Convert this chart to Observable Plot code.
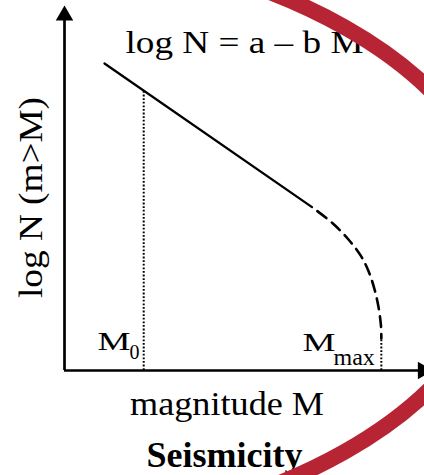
<!DOCTYPE html>
<html><head><meta charset="utf-8">
<script src="https://cdn.jsdelivr.net/npm/d3@7"></script>
<script src="https://cdn.jsdelivr.net/npm/@observablehq/plot@0.6"></script>
<style>html,body{margin:0;padding:0;background:#fff;} svg{display:block}</style>
</head><body><div id="chart"></div>
<script>
// Gutenberg–Richter schematic (arbitrary units)
const grMagnitude = [1.01, 6.25];
const grLogN = [7.78, 4.14];
const taperMagnitude = [6.25, 6.77, 7.17, 7.48, 7.68, 7.83, 7.93, 7.99, 8.0];
const taperLogN = [4.14, 3.73, 3.32, 2.91, 2.51, 2.05, 1.60, 1.14, 0.81];
const M0 = 2.0, M0LogN = 7.09;
const Mmax = 8.0, MmaxLogN = 0.81;
const axisEnd = {magnitude: 9.1, logN: 9.25};
const ringCenter = [{magnitude: -2.4, logN: 3.32}];

const formulaText = "log N = a – b M";
const xLabel = "magnitude M";
const yLabel = "log N (m>M)";
const titleText = "Seismicity";

const grLine = grMagnitude.map((m, i) => ({m, n: grLogN[i]}));
const taper = taperMagnitude.map((m, i) => ({m, n: taperLogN[i]}));

const serif = "'Liberation Serif', 'Times New Roman', serif";

// decorative ellipse outline (semi-axes in pixels)
const ringSymbol = {
  draw(ctx) {
    const a = 531, b = 300, k = 0.5523;
    ctx.moveTo(a, 0);
    ctx.bezierCurveTo(a, k * b, k * a, b, 0, b);
    ctx.bezierCurveTo(-k * a, b, -a, k * b, -a, 0);
    ctx.bezierCurveTo(-a, -k * b, -k * a, -b, 0, -b);
    ctx.bezierCurveTo(k * a, -b, a, -k * b, a, 0);
    ctx.closePath();
  }
};

const plot = Plot.plot({
  width: 424, height: 475,
  marginTop: 0, marginRight: 0, marginBottom: 0, marginLeft: 0,
  x: {domain: [0, axisEnd.magnitude], range: [64, 424.4], axis: null},
  y: {domain: [0, axisEnd.logN], range: [370, 5], axis: null},
  style: {fontFamily: serif, background: "#fff", overflow: "hidden"},
  marks: [
    // axes
    Plot.ruleY([0], {x1: 0, x2: axisEnd.magnitude, stroke: "#000", strokeWidth: 2.7}),
    Plot.ruleX([0], {y1: 0, y2: 9.0, stroke: "#000", strokeWidth: 2.7}),
    Plot.dot([0], {x: 0, y: axisEnd.logN, symbol: "triangle", r: 6.5, fill: "#000", stroke: "none", dy: 10}),
    Plot.dot([0], {x: axisEnd.magnitude, y: 0, symbol: "triangle", r: 6.5, fill: "#000", stroke: "none", rotate: 90, dx: -2}),
    // reference lines
    Plot.ruleX([M0], {y1: 0, y2: M0LogN, stroke: "#000", strokeWidth: 2, strokeDasharray: "1.8,1.8"}),
    Plot.ruleX([Mmax], {y1: 0, y2: MmaxLogN, stroke: "#000", strokeWidth: 2, strokeDasharray: "1.8,1.8"}),
    // G-R line and taper
    Plot.line(grLine, {x: "m", y: "n", stroke: "#000", strokeWidth: 2.3}),
    Plot.line(taper, {x: "m", y: "n", curve: "catmull-rom", stroke: "#000", strokeWidth: 2.6, strokeDasharray: "11,7", strokeDashoffset: 11}),
    // labels
    Plot.text([formulaText], {x: 1.54, y: 8.035, text: d => d, textAnchor: "start", lineAnchor: "bottom", fontSize: 32, fill: "#000"}),
    Plot.text(["M"], {x: 0.833, y: 0.507, text: d => d, textAnchor: "start", lineAnchor: "bottom", fontSize: 26, fill: "#000"}),
    Plot.text(["0"], {x: 1.641, y: 0.304, text: d => d, textAnchor: "start", lineAnchor: "bottom", fontSize: 20, fill: "#000"}),
    Plot.text(["M"], {x: 6.01, y: 0.489, text: d => d, textAnchor: "start", lineAnchor: "bottom", fontSize: 26, fill: "#000"}),
    Plot.text(["max"], {x: 6.793, y: 0.127, text: d => d, textAnchor: "start", lineAnchor: "bottom", fontSize: 24, fill: "#000"}),
    Plot.text([xLabel], {x: 4.104, y: -1.14, text: d => d, textAnchor: "middle", lineAnchor: "bottom", fontSize: 34, fill: "#000"}),
    Plot.text([titleText], {x: 4.04, y: -2.458, text: d => d, textAnchor: "middle", lineAnchor: "bottom", fontSize: 36, fontWeight: "bold", fill: "#000"}),
    Plot.text([yLabel], {x: -0.556, y: 4.384, text: d => d, rotate: -90, textAnchor: "middle", lineAnchor: "bottom", fontSize: 34, fill: "#000"}),
    // red ring
    Plot.dot(ringCenter, {x: "magnitude", y: "logN", r: 1, symbol: ringSymbol, stroke: "#b72433", strokeWidth: 16, fill: "none"})
  ]
});

const textLengths = new Map([[formulaText, 238], ["M", 33], [xLabel, 194], [yLabel, 201]]);
plot.querySelectorAll("text").forEach(t => {
  const L = textLengths.get(t.textContent);
  if (L) { t.setAttribute("textLength", L); t.setAttribute("lengthAdjust", "spacingAndGlyphs"); }
});
document.getElementById("chart").appendChild(plot);
</script>
</body></html>
